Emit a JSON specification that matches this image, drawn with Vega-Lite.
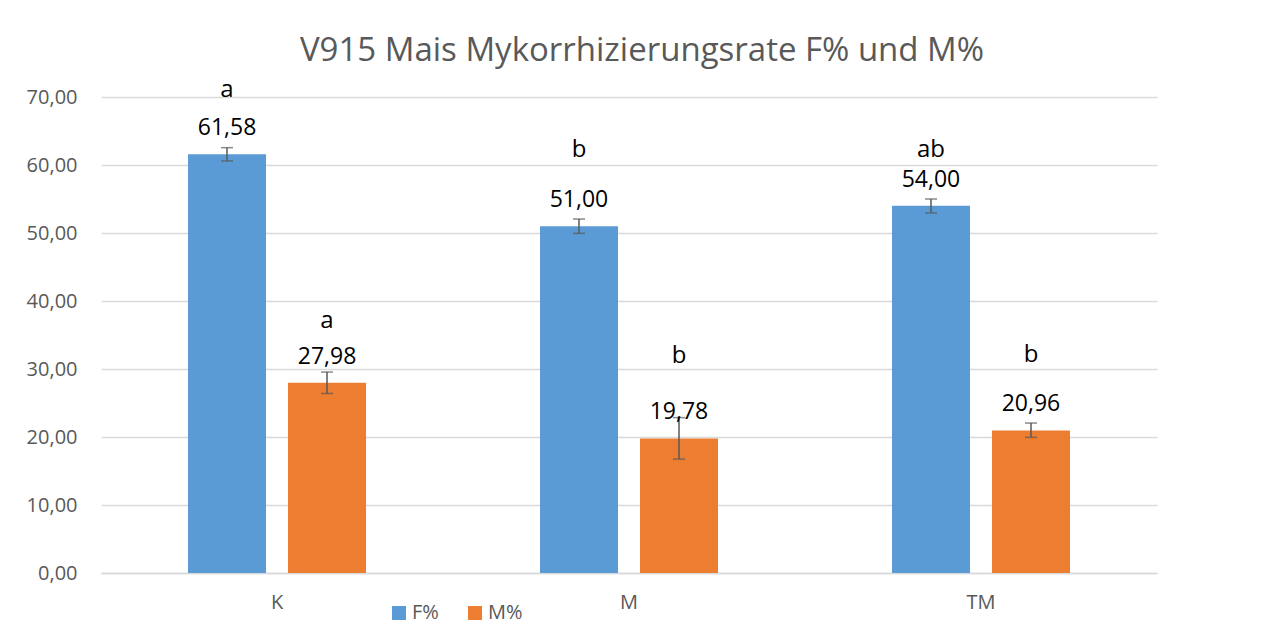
{
  "$schema": "https://vega.github.io/schema/vega-lite/v6.json",
  "width": 1056,
  "height": 476,
  "autosize": {"type": "none"},
  "padding": {"left": 101, "top": 97, "right": 130, "bottom": 66},
  "background": "white",
  "title": {
    "text": "V915 Mais Mykorrhizierungsrate F% und M%",
    "font": "Open Sans",
    "fontSize": 33,
    "fontWeight": "normal",
    "color": "#595959",
    "anchor": "middle",
    "offset": 10,
    "dx": 13
  },
  "config": {
    "locale": {"number": {"decimal": ",", "thousands": ".", "grouping": [3], "currency": ["", " €"]}},
    "view": {"stroke": null},
    "font": "Open Sans"
  },
  "data": {
    "values": [
      {"group": "K", "series": "F%", "value": 61.58, "lo": 60.6, "hi": 62.55, "letter": "a", "letterY": 70.0},
      {"group": "K", "series": "M%", "value": 27.98, "lo": 26.4, "hi": 29.55, "letter": "a", "letterY": 36.0},
      {"group": "M", "series": "F%", "value": 51.0, "lo": 49.95, "hi": 52.05, "letter": "b", "letterY": 61.2},
      {"group": "M", "series": "M%", "value": 19.78, "lo": 16.75, "hi": 22.85, "letter": "b", "letterY": 30.9},
      {"group": "TM", "series": "F%", "value": 54.0, "lo": 52.95, "hi": 55.0, "letter": "ab", "letterY": 61.2},
      {"group": "TM", "series": "M%", "value": 20.96, "lo": 19.95, "hi": 22.05, "letter": "b", "letterY": 31.0}
    ]
  },
  "encoding": {
    "x": {
      "field": "group",
      "type": "nominal",
      "sort": ["K", "M", "TM"],
      "scale": {"paddingInner": 0.4943, "paddingOuter": 0.2472},
      "axis": {
        "title": null,
        "labelAngle": 0,
        "labelFont": "Open Sans",
        "labelFontSize": 20,
        "labelColor": "#595959",
        "labelPadding": 19,
        "ticks": false,
        "domainColor": "#D9D9D9",
        "domainWidth": 1.5,
        "grid": false
      }
    },
    "xOffset": {
      "field": "series",
      "type": "nominal",
      "sort": ["F%", "M%"],
      "scale": {"paddingInner": 0.22, "paddingOuter": 0}
    }
  },
  "layer": [
    {
      "mark": {"type": "bar"},
      "encoding": {
        "y": {
          "field": "value",
          "type": "quantitative",
          "scale": {"domain": [0, 70], "nice": false},
          "axis": {
            "title": null,
            "values": [0, 10, 20, 30, 40, 50, 60, 70],
            "format": ".2f",
            "labelFont": "Open Sans",
            "labelFontSize": 20,
            "labelColor": "#595959",
            "labelPadding": 24,
            "ticks": false,
            "domain": false,
            "gridColor": "#D9D9D9",
            "gridWidth": 1.5
          }
        },
        "color": {
          "field": "series",
          "type": "nominal",
          "sort": ["F%", "M%"],
          "scale": {"domain": ["F%", "M%"], "range": ["#5B9BD5", "#ED7D31"]},
          "legend": {
            "title": null,
            "orient": "none",
            "direction": "horizontal",
            "legendX": 288,
            "legendY": 506,
            "symbolType": "square",
            "symbolSize": 196,
            "symbolStrokeWidth": 0,
            "labelFont": "Open Sans",
            "labelFontSize": 20,
            "labelColor": "#595959",
            "labelOffset": 3,
            "columnPadding": 26
          }
        }
      }
    },
    {
      "mark": {"type": "rule", "color": "#595959", "strokeWidth": 1.5},
      "encoding": {
        "y": {"field": "lo", "type": "quantitative"},
        "y2": {"field": "hi"}
      }
    },
    {
      "mark": {"type": "tick", "color": "#595959", "thickness": 1.5, "size": 12, "orient": "horizontal"},
      "encoding": {
        "y": {"field": "lo", "type": "quantitative"}
      }
    },
    {
      "mark": {"type": "tick", "color": "#595959", "thickness": 1.5, "size": 12, "orient": "horizontal"},
      "encoding": {
        "y": {"field": "hi", "type": "quantitative"}
      }
    },
    {
      "mark": {"type": "text", "font": "Open Sans", "fontSize": 23, "color": "#000000", "baseline": "alphabetic", "dy": -19},
      "encoding": {
        "y": {"field": "value", "type": "quantitative"},
        "text": {"field": "value", "type": "quantitative", "format": ".2f"}
      }
    },
    {
      "mark": {"type": "text", "font": "Open Sans", "fontSize": 24, "color": "#000000", "baseline": "alphabetic"},
      "encoding": {
        "y": {"field": "letterY", "type": "quantitative"},
        "text": {"field": "letter"}
      }
    }
  ]
}
